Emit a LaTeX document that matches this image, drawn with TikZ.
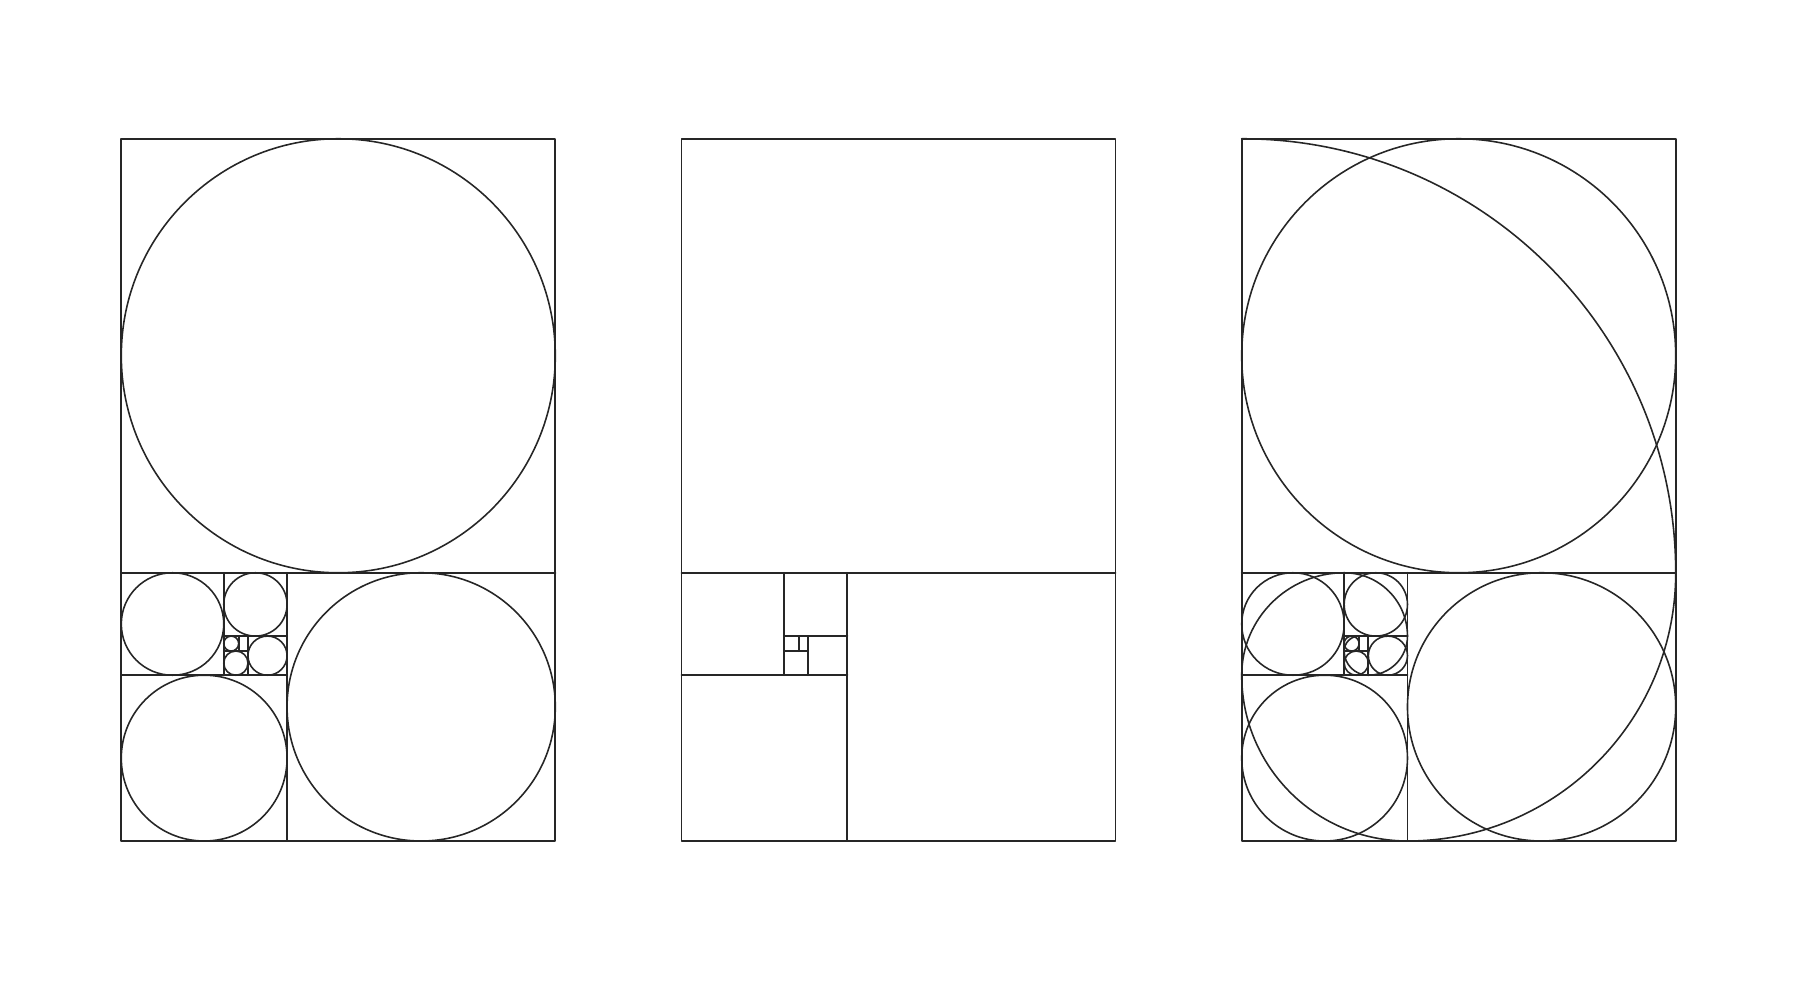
\documentclass[tikz,border=0pt]{standalone}
\usepackage{xcolor}
\definecolor{lineg}{RGB}{38,38,38}
\begin{document}
\begin{tikzpicture}[line cap=round,line join=round,color=lineg,x=0.02cm,y=0.02cm]
			\clip(0.,0.) rectangle (1797.,980.);
			% left panel: squares with inscribed circles
			\begin{scope}[shift={(121.3,139.)}]
				\draw [line width=1.1pt] (0.,0.) rectangle (434.,702.23);
				\draw [line width=1.1pt] (0.,268.23)-- (434.,268.23);
				\draw [line width=1.1pt] (165.77,0.)-- (165.77,268.23);
				\draw [line width=1.1pt] (0.,165.77)-- (165.77,165.77);
				\draw [line width=1.1pt] (102.45,165.77)-- (102.45,268.23);
				\draw [line width=1.1pt] (102.45,204.91)-- (165.77,204.91);
				\draw [line width=1.1pt] (126.64,165.77)-- (126.64,204.91);
				\draw [line width=1.1pt] (102.45,189.96)-- (126.64,189.96);
				\draw [line width=1.1pt] (117.40,189.96)-- (117.40,204.91);
				\draw [line width=0.9pt] (217.,485.23) circle (217.);
				\draw [line width=0.9pt] (299.89,134.12) circle (134.12);
				\draw [line width=0.9pt] (82.89,82.89) circle (82.89);
				\draw [line width=0.9pt] (51.23,217.) circle (51.23);
				\draw [line width=0.9pt] (134.11,236.57) circle (31.66);
				\draw [line width=0.9pt] (146.21,185.34) circle (19.57);
				\draw [line width=0.9pt] (114.55,177.87) circle (12.10);
				\draw [line width=0.9pt] (109.92,197.43) circle (7.47);
			\end{scope}
			% middle panel: squares only
			\begin{scope}[shift={(681.5,139.)}]
				\draw [line width=1.1pt] (0.,0.) rectangle (434.,702.23);
				\draw [line width=1.1pt] (0.,268.23)-- (434.,268.23);
				\draw [line width=1.1pt] (165.77,0.)-- (165.77,268.23);
				\draw [line width=1.1pt] (0.,165.77)-- (165.77,165.77);
				\draw [line width=1.1pt] (102.45,165.77)-- (102.45,268.23);
				\draw [line width=1.1pt] (102.45,204.91)-- (165.77,204.91);
				\draw [line width=1.1pt] (126.64,165.77)-- (126.64,204.91);
				\draw [line width=1.1pt] (102.45,189.96)-- (126.64,189.96);
				\draw [line width=1.1pt] (117.40,189.96)-- (117.40,204.91);
			\end{scope}
			% right panel: circles plus the spiral
			\begin{scope}[shift={(1241.7,139.)}]
				\draw [line width=1.1pt] (0.,0.) rectangle (434.,702.23);
				\draw [line width=1.1pt] (0.,268.23)-- (434.,268.23);
				\draw [line width=1.1pt] (165.77,0.)-- (165.77,268.23);
				\draw [line width=1.1pt] (0.,165.77)-- (165.77,165.77);
				\draw [line width=1.1pt] (102.45,165.77)-- (102.45,268.23);
				\draw [line width=1.1pt] (102.45,204.91)-- (165.77,204.91);
				\draw [line width=1.1pt] (126.64,165.77)-- (126.64,204.91);
				\draw [line width=1.1pt] (102.45,189.96)-- (126.64,189.96);
				\draw [line width=1.1pt] (117.40,189.96)-- (117.40,204.91);
				\draw [line width=0.9pt] (217.,485.23) circle (217.);
				\draw [line width=0.9pt] (299.89,134.12) circle (134.12);
				\draw [line width=0.9pt] (82.89,82.89) circle (82.89);
				\draw [line width=0.9pt] (51.23,217.) circle (51.23);
				\draw [line width=0.9pt] (134.11,236.57) circle (31.66);
				\draw [line width=0.9pt] (146.21,185.34) circle (19.57);
				\draw [line width=0.9pt] (114.55,177.87) circle (12.10);
				\draw [line width=0.9pt] (109.92,197.43) circle (7.47);
				\draw [line width=0.9pt] (0.,702.23) arc (90:0:434.) arc (0:-90:268.23) arc (270:180:165.77) arc (180:90:102.45) arc (90:0:63.32) arc (0:-90:39.13) arc (270:180:24.19) arc (180:90:14.95);
			\end{scope}
		\end{tikzpicture}
\end{document}
